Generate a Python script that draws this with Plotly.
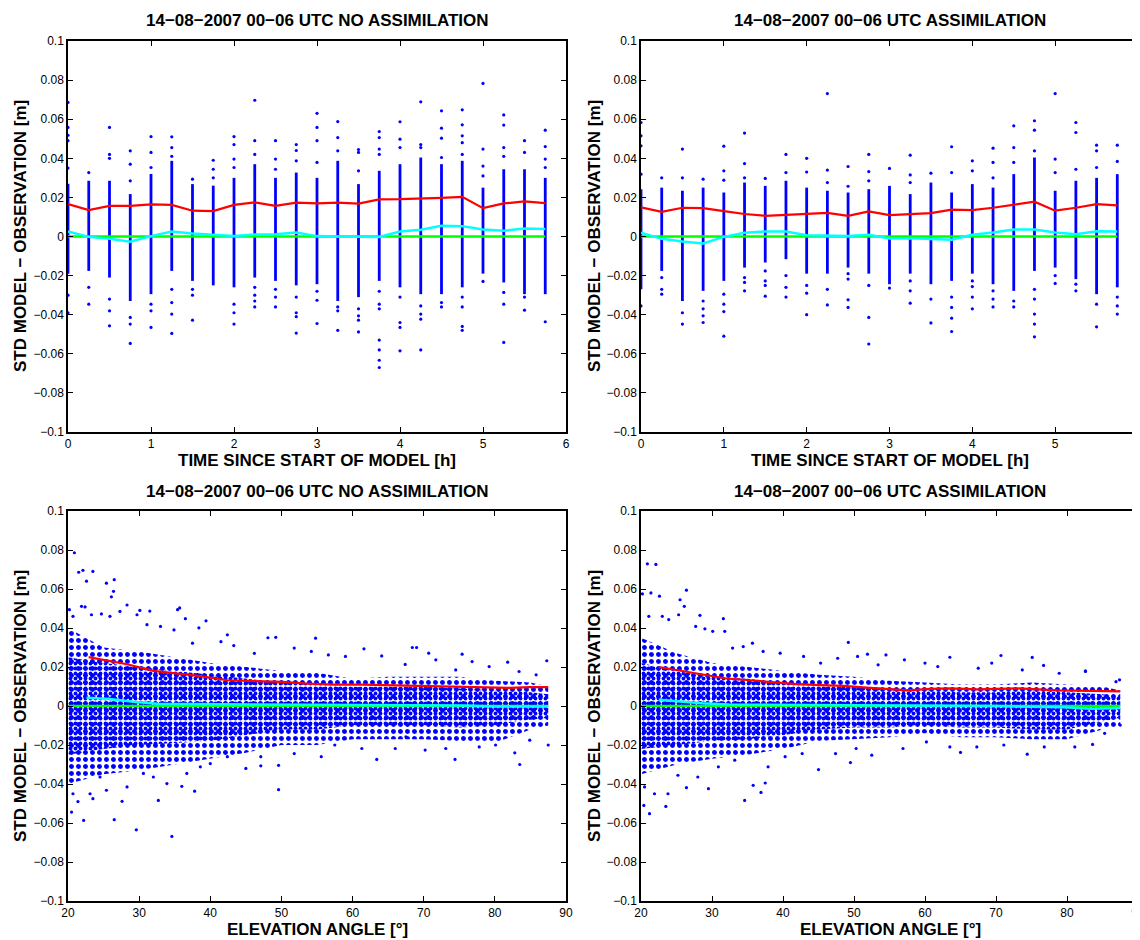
import plotly.graph_objects as go

# ---------------- DATA ----------------
time_h = [0, 0.25, 0.5, 0.75, 1.0, 1.25, 1.5, 1.75, 2.0, 2.25, 2.5, 2.75,
          3.0, 3.25, 3.5, 3.75, 4.0, 4.25, 4.5, 4.75, 5.0, 5.25, 5.5, 5.75]

# Top-left (NO ASSIMILATION) vs time
tl_std = [0.0166, 0.0135, 0.0157, 0.0157, 0.0164, 0.0162, 0.0132, 0.0130, 0.0162, 0.0174, 0.0157, 0.0173,
          0.0169, 0.0173, 0.0168, 0.0190, 0.0191, 0.0193, 0.0198, 0.0203, 0.0145, 0.0169, 0.0180, 0.0171]
tl_mean = [0.0026, -0.0002, -0.0012, -0.0027, 0.0002, 0.0026, 0.0015, 0.0010, 0.0003, 0.0010, 0.0012, 0.0020,
           0.0002, 0.0000, -0.0002, -0.0002, 0.0026, 0.0034, 0.0055, 0.0053, 0.0036, 0.0029, 0.0041, 0.0038]
tl_core_hi = [0.027, 0.0285, 0.0285, 0.0217, 0.032, 0.0387, 0.0268, 0.026, 0.030, 0.037, 0.030, 0.0327,
              0.030, 0.0387, 0.0268, 0.0336, 0.037, 0.0404, 0.037, 0.0387, 0.025, 0.0344, 0.0344, 0.030]
tl_core_lo = [-0.019, -0.0176, -0.021, -0.033, -0.0295, -0.0176, -0.0227, -0.025, -0.026, -0.021, -0.0227, -0.025,
              -0.0244, -0.033, -0.031, -0.0227, -0.026, -0.0295, -0.0295, -0.026, -0.019, -0.0235, -0.0295, -0.0295]
tl_sparse = [
    [0.0686, 0.0558, 0.0518, 0.049, 0.035, -0.030, -0.039],
    [0.0327, -0.026, -0.0346],
    [0.0558, 0.042, 0.040, -0.032, -0.038, -0.0457],
    [0.0438, 0.037, 0.0285, -0.0414, -0.0448, -0.0547],
    [0.0511, 0.043, 0.0353, -0.0346, -0.038, -0.0465],
    [0.051, 0.0455, 0.041, -0.027, -0.0338, -0.0397, -0.0496],
    [0.0293, -0.027, -0.030, -0.0428],
    [0.039, 0.0344, 0.030],
    [0.0511, 0.047, 0.0396, 0.0353, -0.0346, -0.039, -0.0448],
    [0.0697, 0.049, 0.042, -0.026, -0.030, -0.033, -0.036],
    [0.049, 0.0396, 0.0344, -0.027, -0.031, -0.036],
    [0.047, 0.044, 0.0387, -0.031, -0.039, -0.041, -0.0494],
    [0.063, 0.0558, 0.049, 0.0379, -0.028, -0.0326, -0.0445],
    [0.0588, 0.0506, 0.0438, -0.036, -0.038, -0.048],
    [0.0445, 0.043, 0.0336, -0.037, -0.0406, -0.0428, -0.0488],
    [0.0537, 0.0506, 0.0447, 0.042, -0.028, -0.0346, -0.037, -0.053, -0.058, -0.0633, -0.067],
    [0.0587, 0.0498, 0.0455, -0.031, -0.044, -0.0465, -0.0585],
    [0.0689, 0.047, 0.0455, -0.0355, -0.0397, -0.0423, -0.058],
    [0.0643, 0.0554, 0.0503, 0.0404, -0.0338, -0.036],
    [0.0648, 0.0571, 0.0515, 0.048, 0.042, -0.031, -0.036, -0.046, -0.048],
    [0.0783, 0.0447, 0.036, 0.031, -0.023],
    [0.0622, 0.057, 0.0455, 0.041, -0.0286, -0.0346, -0.0542],
    [0.049, 0.043, -0.031, -0.0377],
    [0.0544, 0.046, 0.0396, 0.0353, -0.0436],
]

# Top-right (ASSIMILATION) vs time
tr_std = [0.0149, 0.0126, 0.0147, 0.0145, 0.0130, 0.0115, 0.0106, 0.0111, 0.0113, 0.0121, 0.0106, 0.0128,
          0.0109, 0.0116, 0.0120, 0.0137, 0.0135, 0.0147, 0.0162, 0.0178, 0.0132, 0.0147, 0.0166, 0.0159]
tr_mean = [0.0020, -0.0012, -0.0026, -0.0036, -0.0002, 0.0019, 0.0026, 0.0026, 0.0007, 0.0005, 0.0002, 0.0009,
           -0.0010, -0.0009, -0.0014, -0.0017, 0.0009, 0.0020, 0.0036, 0.0036, 0.0020, 0.0012, 0.0027, 0.0026]
tr_core_hi = [0.0242, 0.025, 0.0234, 0.025, 0.0225, 0.0276, 0.0259, 0.0285, 0.025, 0.0234, 0.0225, 0.0242,
              0.0259, 0.0217, 0.0276, 0.0225, 0.0268, 0.025, 0.0319, 0.0404, 0.0234, 0.0285, 0.030, 0.0319]
tr_core_lo = [-0.027, -0.0176, -0.033, -0.0278, -0.0227, -0.0159, -0.0133, -0.0116, -0.019, -0.019, -0.0159, -0.019,
              -0.0244, -0.019, -0.0244, -0.0227, -0.019, -0.0244, -0.0278, -0.0176, -0.0159, -0.0218, -0.0295, -0.026]
tr_sparse = [
    [0.0583, 0.0515, 0.0464, 0.0319, -0.0355],
    [0.030, -0.021, -0.027, -0.0295],
    [0.0447, 0.030, -0.039, -0.0448],
    [0.0293, -0.033, -0.037, -0.0406, -0.044],
    [0.0462, 0.0336, 0.0288, -0.0295, -0.0346, -0.0384, -0.051],
    [0.0529, 0.0373, 0.030, -0.021, -0.0235, -0.0278],
    [0.0297, -0.0176, -0.0227, -0.025, -0.0305],
    [0.042, 0.0327, -0.020, -0.026, -0.031],
    [0.040, 0.033, -0.025, -0.029, -0.040],
    [0.0731, 0.034, 0.0276, -0.027, -0.035],
    [0.0358, 0.0257, -0.019, -0.0218, -0.0324, -0.0363],
    [0.042, 0.0332, 0.0285, -0.025, -0.0414, -0.055],
    [0.0348, -0.0264],
    [0.0416, 0.0315, 0.0276, -0.0227, -0.0278, -0.0341],
    [0.0324, -0.032, -0.0442],
    [0.0459, 0.0327, -0.031, -0.0363, -0.0418, -0.0486],
    [0.0387, 0.0336, -0.0227, -0.0256, -0.031, -0.037],
    [0.0452, 0.0379, 0.030, -0.0278, -0.032, -0.036],
    [0.0566, 0.0455, 0.0379, -0.033, -0.036],
    [0.0592, 0.0544, 0.0438, -0.027, -0.032, -0.0397, -0.0448, -0.0513],
    [0.0731, 0.0396, 0.0327, -0.020, -0.024],
    [0.0583, 0.0532, 0.0344, -0.0244, -0.0278],
    [0.0467, 0.0438, 0.0353, -0.0346, -0.0462],
    [0.0467, 0.0384, -0.031, -0.0355, -0.0397],
]

# Bottom-left (NO ASSIMILATION) vs elevation
bl_std_ang = [22.9, 25.9, 28.3, 32.0, 35.3, 38.6, 42.4, 46.2, 50.0, 53.7, 57.5, 61.3, 65.0, 68.8, 72.6, 76.4, 80.1, 82.0, 84.9, 87.5]
bl_std = [0.0251, 0.0229, 0.0214, 0.0180, 0.0166, 0.0153, 0.0132, 0.0129, 0.0124, 0.0115, 0.0110, 0.0110, 0.0107, 0.0105, 0.0103, 0.0098, 0.0095, 0.0093, 0.0097, 0.0097]
bl_mean_ang = [22.6, 25.9, 29.2, 32.5, 37.6, 47.1, 56.5, 65.9, 75.4, 80.1, 84.9, 87.5]
bl_mean = [0.0042, 0.0036, 0.0022, 0.0012, 0.0010, 0.0008, 0.0008, 0.0005, 0.0002, -0.0003, -0.0003, -0.0002]

cloud_ang = [20, 25, 30, 35, 40, 45, 50, 55, 60, 65, 70, 75, 80, 85, 87.5]
bl_cloud_hi = [0.040, 0.030, 0.028, 0.025, 0.022, 0.020, 0.018, 0.017, 0.014, 0.015, 0.015, 0.015, 0.013, 0.012, 0.010]
bl_cloud_lo = [-0.040, -0.035, -0.033, -0.030, -0.027, -0.024, -0.020, -0.020, -0.017, -0.017, -0.017, -0.018, -0.019, -0.012, -0.010]
bl_core_hi = [0.025, 0.022, 0.020, 0.018, 0.016, 0.014, 0.012, 0.011, 0.010, 0.010, 0.010, 0.009, 0.008, 0.007, 0.006]
bl_core_lo = [-0.025, -0.022, -0.020, -0.019, -0.018, -0.015, -0.012, -0.012, -0.010, -0.010, -0.010, -0.011, -0.010, -0.007, -0.006]
bl_out_ang = [20.9, 21.5, 22.1, 23.5, 22.6, 25.4, 26.5, 26.4, 26.1, 28.3, 30.1, 31.5, 35.4, 35.7, 36.5, 39.4, 38.4,
              42.4, 48.1, 49.2, 54.8, 61.6, 68.4, 69.0, 70.7, 75.4, 81.8, 87.3,
              20.2, 20.7, 21.9, 22.4, 23.3, 24.7, 25.9, 27.3, 29.7, 31.1, 33.0, 34.9, 37.5, 41.5, 43.3, 46.2, 51.8,
              54.2, 56.6, 59.0, 64.1, 67.4, 71.7, 74.5, 76.8, 79.2, 83.4, 85.8,
              20.5, 22.2, 26.5, 29.6, 34.6, 32.7, 27.6, 23.5, 36.0, 37.8, 49.6, 49.6, 47.1, 45.0, 63.4, 74.4, 83.5,
              87.5, 82.8, 66.0, 67.5,
              20.7, 21.4, 23.1, 24.5, 25.4, 28.3, 30.6, 32.0, 33.9, 36.7, 38.6, 40.0, 42.4, 47.1, 51.8, 55.6, 57.5,
              61.3, 70.2, 73.1, 77.8, 80.1, 84.9]
bl_out_val = [0.0786, 0.0686, 0.0696, 0.069, 0.064, 0.063, 0.0648, 0.0588, 0.056, 0.0518, 0.049, 0.0487, 0.0494, 0.0503,
              0.0448, 0.0437, 0.0401, 0.0365, 0.035, 0.0352, 0.0348, 0.0293, 0.030, 0.030, 0.0271, 0.0266, 0.0225, 0.0232,
              0.0494, 0.046, 0.0511, 0.0508, 0.0468, 0.0472, 0.046, 0.0485, 0.0468, 0.0417, 0.0408, 0.039, 0.0322, 0.033,
              0.031, 0.027, 0.0297, 0.028, 0.0262, 0.0254, 0.0257, 0.0213, 0.0237, 0.0185, 0.0228, 0.0202, 0.0177, 0.016,
              -0.0544, -0.0587, -0.0583, -0.0635, -0.0669, -0.0484, -0.0489, -0.0475, -0.0412, -0.0437, -0.0429, -0.0304,
              -0.0307, -0.032, -0.0274, -0.0274, -0.030, -0.020, -0.024, -0.0218, -0.0158,
              -0.045, -0.049, -0.045, -0.0364, -0.0432, -0.0415, -0.0346, -0.0364, -0.0398, -0.0346, -0.0312, -0.0295,
              -0.026, -0.026, -0.0244, -0.026, -0.020, -0.0218, -0.0226, -0.0218, -0.021, -0.020, -0.0175]

# Bottom-right (ASSIMILATION) vs elevation
br_std_ang = [22.5, 25.3, 28.6, 32.0, 35.3, 38.6, 41.9, 45.2, 48.5, 52.3, 56.1, 57.5, 60.8, 63.6, 67.4, 70.2, 73.1, 75.9, 78.7, 83.5, 87.5]
br_std = [0.0200, 0.0183, 0.0163, 0.0141, 0.0132, 0.0122, 0.0112, 0.0107, 0.0103, 0.0093, 0.0085, 0.0080, 0.0088, 0.0090, 0.0085, 0.0086, 0.0090, 0.0085, 0.0080, 0.0078, 0.0075]
br_mean_ang = [22.5, 25.3, 28.6, 32.4, 41.9, 56.1, 70.2, 79.6, 83.5, 87.5]
br_mean = [0.0032, 0.0022, 0.0014, 0.0008, 0.0005, 0.0002, 0.0000, -0.0007, -0.0014, -0.0010]
br_cloud_hi = [0.035, 0.027, 0.022, 0.020, 0.018, 0.016, 0.015, 0.013, 0.012, 0.011, 0.011, 0.012, 0.011, 0.010, 0.008]
br_cloud_lo = [-0.035, -0.030, -0.027, -0.025, -0.022, -0.018, -0.017, -0.016, -0.014, -0.016, -0.016, -0.017, -0.017, -0.012, -0.010]
br_core_hi = [0.022, 0.018, 0.015, 0.014, 0.012, 0.011, 0.010, 0.009, 0.008, 0.007, 0.007, 0.008, 0.007, 0.006, 0.005]
br_core_lo = [-0.022, -0.020, -0.018, -0.017, -0.015, -0.012, -0.011, -0.011, -0.010, -0.011, -0.011, -0.012, -0.012, -0.008, -0.006]
br_out_ang = [20.9, 22.1, 20.2, 21.4, 22.6, 26.4, 25.5, 26.1, 28.3, 31.6, 31.8, 29.0, 35.7, 49.2, 51.9, 54.5, 63.5,
              70.7, 75.1, 76.7, 82.6, 87.4,
              21.1, 23.0, 23.9, 25.3, 27.7, 30.1, 32.9, 34.4, 37.2, 39.6, 42.9, 45.3, 47.7, 50.5, 53.4, 57.1, 60.0,
              61.8, 67.5, 69.4, 73.7, 78.9, 82.6, 86.9,
              21.2, 23.5, 20.4, 26.4, 29.5, 34.6, 36.9, 35.8, 37.5, 45.0, 49.5, 52.5, 65.0, 74.4, 83.6, 87.5,
              20.5, 21.9, 23.8, 25.2, 28.0, 30.9, 33.2, 37.9, 40.3, 42.7, 47.4, 50.3, 56.9, 60.2, 63.5, 67.3, 71.1,
              76.8, 81.1, 85.3]
br_out_val = [0.0729, 0.0726, 0.0575, 0.058, 0.0563, 0.0594, 0.0545, 0.0511, 0.0465, 0.0448, 0.0383, 0.0396, 0.0322,
              0.0326, 0.0266, 0.0262, 0.025, 0.0259, 0.0249, 0.0208, 0.018, 0.0134,
              0.046, 0.046, 0.0443, 0.0468, 0.0408, 0.0383, 0.0297, 0.0305, 0.028, 0.0271, 0.0254, 0.022, 0.0245,
              0.0254, 0.0211, 0.0237, 0.022, 0.0202, 0.0194, 0.022, 0.0185, 0.0168, 0.0177, 0.0125,
              -0.0552, -0.0515, -0.051, -0.0419, -0.0424, -0.0484, -0.0443, -0.0407, -0.0395, -0.0326, -0.029, -0.0252,
              -0.0238, -0.0247, -0.0197, -0.0098,
              -0.0415, -0.045, -0.045, -0.0355, -0.0364, -0.0312, -0.0278, -0.0312, -0.026, -0.0244, -0.0244, -0.0218,
              -0.0218, -0.0184, -0.021, -0.021, -0.020, -0.021, -0.021, -0.014]

ytick_vals = [0.1, 0.08, 0.06, 0.04, 0.02, 0, -0.02, -0.04, -0.06, -0.08, -0.1]
ytick_text = ["0.1", "0.08", "0.06", "0.04", "0.02", "0", "\u22120.02", "\u22120.04", "\u22120.06", "\u22120.08", "\u22120.1"]
xtick_time = [0, 1, 2, 3, 4, 5, 6]
xtick_elev = [20, 30, 40, 50, 60, 70, 80, 90]

title_no = "14\u221208\u22122007 00\u221206 UTC NO ASSIMILATION"
title_as = "14\u221208\u22122007 00\u221206 UTC ASSIMILATION"
xlabel_time = "TIME SINCE START OF MODEL [h]"
xlabel_elev = "ELEVATION ANGLE [\u00b0]"
ylabel = "STD MODEL \u2212 OBSERVATION [m]"

# ---------------- FIGURE ----------------
W, H = 1140, 940
OFF = 8  # page body margin offsets the figure by this many pixels
FONT = "Liberation Sans, Arial, Helvetica, sans-serif"
BLUE, RED, CYAN, GREEN = "#0000ff", "#ff0000", "#00ffff", "#00ff00"

def xd(a, b):
    return [(a - OFF) / W, (b - OFF) / W]

def yd(top, bottom):
    return [1 - (bottom - OFF) / H, 1 - (top - OFF) / H]

panels = {
    1: dict(x=xd(68, 566), y=yd(41, 432)),
    2: dict(x=xd(641, 1138), y=yd(41, 432)),
    3: dict(x=xd(68, 566), y=yd(511, 901)),
    4: dict(x=xd(641, 1138), y=yd(511, 901)),
}

fig = go.Figure()

def ax(n):
    return ("x" if n == 1 else f"x{n}"), ("y" if n == 1 else f"y{n}")

def add_time_panel(n, core_hi, core_lo, sparse, std, mean):
    xa, ya = ax(n)
    cx, cy = [], []
    for t, lo, hi in zip(time_h, core_lo, core_hi):
        cx += [t, t, None]
        cy += [lo, hi, None]
    fig.add_trace(go.Scatter(x=cx, y=cy, mode="lines", line=dict(color=BLUE, width=2.8),
                             xaxis=xa, yaxis=ya, showlegend=False, hoverinfo="skip"))
    sx, sy = [], []
    for t, vals in zip(time_h, sparse):
        for v in vals:
            sx.append(t)
            sy.append(v)
    fig.add_trace(go.Scatter(x=sx, y=sy, mode="markers", marker=dict(color=BLUE, size=3.2, symbol="circle"),
                             xaxis=xa, yaxis=ya, showlegend=False))
    fig.add_trace(go.Scatter(x=[time_h[0], time_h[-1]], y=[0, 0], mode="lines",
                             line=dict(color=GREEN, width=2.5), xaxis=xa, yaxis=ya, showlegend=False))
    fig.add_trace(go.Scatter(x=time_h, y=mean, mode="lines", line=dict(color=CYAN, width=2.5),
                             xaxis=xa, yaxis=ya, showlegend=False))
    fig.add_trace(go.Scatter(x=time_h, y=std, mode="lines", line=dict(color=RED, width=2.2),
                             xaxis=xa, yaxis=ya, showlegend=False))

def band(xa, ya, hi, lo, size, solidity):
    px = cloud_ang + cloud_ang[::-1]
    py = hi + lo[::-1]
    fig.add_trace(go.Scatter(x=px, y=py, mode="lines", fill="toself", line=dict(width=0, color=BLUE),
                             fillcolor="rgba(0,0,255,0.0)",
                             fillpattern=dict(shape=".", fgcolor=BLUE, bgcolor="rgba(255,255,255,0)",
                                              fgopacity=1, size=size, solidity=solidity),
                             xaxis=xa, yaxis=ya, showlegend=False, hoverinfo="skip"))

def add_elev_panel(n, hi, lo, chi, clo, oa, ov, std_a, std, mean_a, mean):
    xa, ya = ax(n)
    band(xa, ya, hi, lo, 7, 0.4)
    band(xa, ya, chi, clo, 5, 0.45)
    fig.add_trace(go.Scatter(x=oa, y=ov, mode="markers", marker=dict(color=BLUE, size=3.2, symbol="circle"),
                             xaxis=xa, yaxis=ya, showlegend=False))
    fig.add_trace(go.Scatter(x=[cloud_ang[0], cloud_ang[-1]], y=[0, 0], mode="lines",
                             line=dict(color=GREEN, width=2.5), xaxis=xa, yaxis=ya, showlegend=False))
    fig.add_trace(go.Scatter(x=mean_a, y=mean, mode="lines", line=dict(color=CYAN, width=2.5),
                             xaxis=xa, yaxis=ya, showlegend=False))
    fig.add_trace(go.Scatter(x=std_a, y=std, mode="lines", line=dict(color=RED, width=2.2),
                             xaxis=xa, yaxis=ya, showlegend=False))

add_time_panel(1, tl_core_hi, tl_core_lo, tl_sparse, tl_std, tl_mean)
add_time_panel(2, tr_core_hi, tr_core_lo, tr_sparse, tr_std, tr_mean)
add_elev_panel(3, bl_cloud_hi, bl_cloud_lo, bl_core_hi, bl_core_lo, bl_out_ang, bl_out_val,
               bl_std_ang, bl_std, bl_mean_ang, bl_mean)
add_elev_panel(4, br_cloud_hi, br_cloud_lo, br_core_hi, br_core_lo, br_out_ang, br_out_val,
               br_std_ang, br_std, br_mean_ang, br_mean)

common_axis = dict(showline=True, linecolor="black", linewidth=1.5, mirror="ticks", ticks="inside",
                   ticklen=5, tickwidth=1, tickcolor="black", showgrid=False, zeroline=False,
                   automargin=False, tickfont=dict(family=FONT, size=12, color="black"))

layout = dict(width=W, height=H, margin=dict(l=0, r=0, t=0, b=0, pad=0, autoexpand=False),
              paper_bgcolor="white", plot_bgcolor="white", showlegend=False)
for n, p in panels.items():
    xkey = "xaxis" if n == 1 else f"xaxis{n}"
    ykey = "yaxis" if n == 1 else f"yaxis{n}"
    yanchor = "y" if n == 1 else f"y{n}"
    xanchor = "x" if n == 1 else f"x{n}"
    if n <= 2:
        xr, xt = [0, 6], xtick_time
    else:
        xr, xt = [20, 90], xtick_elev
    layout[xkey] = dict(common_axis, domain=p["x"], range=xr, tickvals=xt,
                        ticktext=[str(v) for v in xt], anchor=yanchor)
    layout[ykey] = dict(common_axis, domain=p["y"], range=[-0.1, 0.1], tickvals=ytick_vals,
                        ticktext=ytick_text, anchor=xanchor)
fig.update_layout(**layout)

ann = []
def add_text(text, xpix, ypix, size, angle=0):
    ann.append(dict(text=f"<b>{text}</b>", x=(xpix - OFF) / W, y=1 - (ypix - OFF) / H,
                    xref="paper", yref="paper",
                    showarrow=False, xanchor="center", yanchor="middle", textangle=angle,
                    font=dict(family=FONT, size=size, color="black")))

add_text(title_no, 317, 20, 17)
add_text(title_as, 890, 20, 17)
add_text(title_no, 317, 492, 17)
add_text(title_as, 890, 492, 17)
add_text(xlabel_time, 317, 461, 17)
add_text(xlabel_time, 890, 461, 17)
add_text(xlabel_elev, 317, 929, 17)
add_text(xlabel_elev, 890, 929, 17)
add_text(ylabel, 20, 236, 17, -90)
add_text(ylabel, 594, 236, 17, -90)
add_text(ylabel, 20, 706, 17, -90)
add_text(ylabel, 594, 706, 17, -90)
fig.update_layout(annotations=ann)

fig.write_html("out.html")
